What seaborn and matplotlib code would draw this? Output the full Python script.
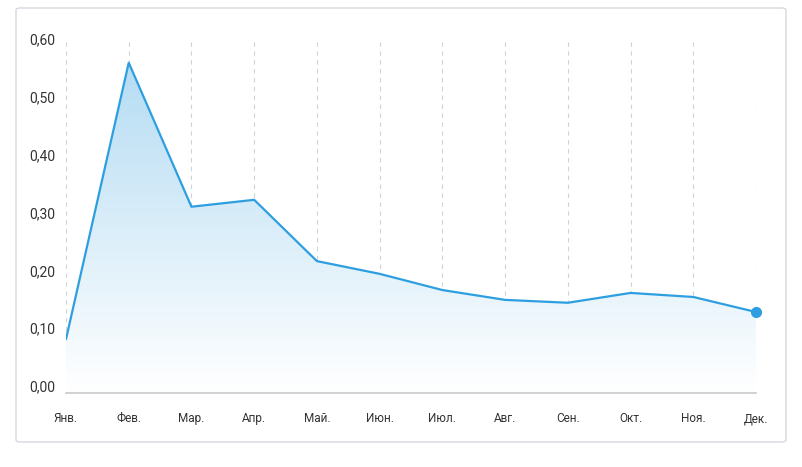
import matplotlib
matplotlib.use("Agg")
import matplotlib.pyplot as plt
import seaborn as sns
import numpy as np
import pandas as pd
from matplotlib.patches import FancyBboxPatch, Polygon
from matplotlib.colors import LinearSegmentedColormap

months = ["Янв.", "Фев.", "Мар.", "Апр.", "Май.", "Июн.", "Июл.", "Авг.", "Сен.", "Окт.", "Ноя.", "Дек."]
values = [0.081, 0.559, 0.310, 0.322, 0.216, 0.194, 0.166, 0.149, 0.144, 0.161, 0.154, 0.128]
yticks = [0.0, 0.1, 0.2, 0.3, 0.4, 0.5, 0.6]
ytick_labels = ["0,00", "0,10", "0,20", "0,30", "0,40", "0,50", "0,60"]

sns.set_theme(style="white")
plt.rcParams['font.family'] = ['Roboto', 'DejaVu Sans']

fig = plt.figure(figsize=(8.02, 4.67), dpi=100)
card = FancyBboxPatch((16/802, 1-442/467), 770/802, 434/467, boxstyle="round,pad=0,rounding_size=0.005",
                      transform=fig.transFigure, facecolor="white", edgecolor="#d5d8e0", lw=1, zorder=-10)
fig.patches.append(card)
ax = fig.add_axes([66/802, 1-393/467, 690/802, (393-39)/467])
ax.set_facecolor("none")
ax.set_zorder(1)

df = pd.DataFrame({"x": np.arange(len(months)), "y": values})
ymin = -0.012
ax.set_xlim(0, len(months)-1)
ax.set_ylim(ymin, 0.6)

cmap = LinearSegmentedColormap.from_list("g", ["#ffffff", "#b5dcf3"])
img = ax.imshow(np.linspace(0, 1, 256).reshape(-1, 1), cmap=cmap, aspect="auto",
                extent=[0, len(months)-1, ymin, max(values)], origin="lower", zorder=1)
poly = Polygon([(0, ymin)] + list(zip(df.x, df.y)) + [(len(months)-1, ymin)], closed=True,
               transform=ax.transData, facecolor="none", edgecolor="none")
img.set_clip_path(poly)

sns.lineplot(data=df, x="x", y="y", ax=ax, color="#2d9fe0", lw=1.6, zorder=3)
ax.plot(df.x.iloc[-1], df.y.iloc[-1], "o", color="#2d9fe0", ms=7, zorder=4, clip_on=False)

for i in df.x:
    ax.axvline(i, color="#d0d3da", lw=0.8, ls=(0, (4, 4)), zorder=0)

ax.set_xlim(0, len(months)-1)
ax.set_ylim(ymin, 0.6)
ax.set_xticks(df.x)
ax.set_xticklabels(months, fontsize=8.5, color="#333333")
ax.set_yticks(yticks)
ax.set_yticklabels(ytick_labels, fontsize=10, color="#333333")
ax.tick_params(axis="x", pad=14, length=0)
ax.tick_params(axis="y", pad=8, length=0)
ax.set_xlabel(""); ax.set_ylabel("")
for s in ["top", "right", "left"]:
    ax.spines[s].set_visible(False)
ax.spines["bottom"].set_color("#cccccc")

fig.savefig("out.png", dpi=100)
